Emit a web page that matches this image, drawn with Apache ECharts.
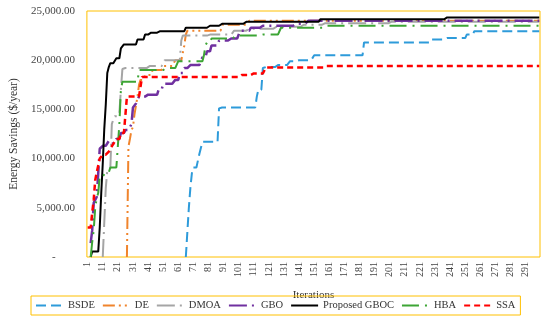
<!DOCTYPE html>
<html><head><meta charset="utf-8">
<script src="https://cdn.jsdelivr.net/npm/echarts@6/dist/echarts.min.js"></script>
<style>html,body{margin:0;padding:0;background:#fff}#c{width:550px;height:322px}</style>
</head><body><div id="c"></div>
<script>
// Iteration categories 1..300
const iterationCount = 300;
const yTicks = [0, 5000, 10000, 15000, 20000, 25000];
const seriesNames = ['BSDE', 'DE', 'DMOA', 'GBO', 'Proposed GBOC', 'HBA', 'SSA'];

// Convergence curves as [iteration where value changes, value]
const bsdeSteps = [[66,0],[67,2500],[68,5000],[69,7000],[70,8500],[71,9100],[74,9300],[75,10500],[77,11700],[88,15100],[89,15200],[113,16300],[114,17000],[117,19200],[119,19300],[127,19500],[135,19900],[141,20000],[151,20500],[184,21800],[229,22100],[238,22250],[252,22600],[257,22950]];
const deSteps = [[27,0],[28,11200],[29,12000],[30,12900],[31,13200],[32,14500],[33,15400],[34,16300],[35,17500],[36,18000],[39,18500],[44,19000],[51,19400],[59,20000],[65,21500],[66,22600],[67,23000],[90,23600],[108,24000]];
const dmoaSteps = [[11,0],[12,3500],[13,7000],[14,8800],[15,9000],[17,13500],[18,14000],[19,14300],[22,14600],[23,17000],[24,19100],[26,19200],[42,19400],[52,20000],[63,22000],[64,22500],[81,22600],[98,23000],[108,23200],[125,23400],[144,23600],[157,23750],[201,23900]];
const gboSteps = [[3,1400],[4,2700],[5,5500],[6,5800],[7,6100],[8,8500],[9,11000],[11,11300],[15,11800],[18,11500],[20,12000],[23,12600],[26,12900],[30,13500],[31,15200],[33,15600],[35,16300],[41,16500],[48,17000],[51,17600],[59,18000],[62,18700],[65,19200],[69,19500],[77,20300],[80,20900],[83,21500],[88,22000],[95,22200],[102,23000],[109,23300],[117,23500],[138,23700],[147,24000]];
const gbocSteps = [[3,0],[4,550],[9,3000],[10,6500],[11,9500],[12,13000],[13,15500],[14,18700],[15,19300],[16,19700],[20,20200],[23,21200],[25,21600],[34,22100],[39,22600],[42,22800],[49,22950],[66,23300],[81,23500],[90,23700],[105,23900],[155,24150],[238,24350]];
const hbaSteps = [[3,0],[4,1500],[5,2700],[6,5000],[7,6000],[8,6500],[9,8200],[13,8600],[16,9100],[22,13500],[23,17000],[24,17800],[35,19000],[52,19200],[61,19900],[78,20500],[79,21500],[80,21800],[83,22200],[99,22500],[116,22600],[129,23300],[159,23500]];
const ssaSteps = [[1,3000],[4,4500],[5,5800],[6,7800],[7,8600],[8,9300],[9,10000],[11,10400],[15,10700],[16,11000],[18,11500],[20,12000],[23,12600],[27,16300],[37,18300],[103,18500],[111,18650],[119,19250],[159,19400]];

const colors = ['#2E9BDA', '#F0842C', '#A5A5A5', '#7030A0', '#000000', '#3DA535', '#FF0000'];
const dashes = [[10,5], [12,4,2,4,2,4], [18,5,2,5], [18,5,2,5], 'solid', [17,6,2,6], [6,4]];
const widths = [2, 2, 2, 2.5, 2, 2, 2.5];

const categories = [];
for (let i = 1; i <= iterationCount; i++) categories.push(String(i));

// hold each read value until the next change (best-so-far curves)
function expand(steps) {
  const out = new Array(iterationCount).fill(null);
  for (let k = 0; k < steps.length; k++) {
    const start = steps[k][0];
    const end = k + 1 < steps.length ? steps[k + 1][0] - 1 : iterationCount;
    for (let i = start; i <= end; i++) out[i - 1] = steps[k][1];
  }
  return out;
}
const allSteps = [bsdeSteps, deSteps, dmoaSteps, gboSteps, gbocSteps, hbaSteps, ssaSteps];

function fmt(v) {
  if (v === 0) return '-       ';
  const s = Math.round(v).toString().replace(/\B(?=(\d{3})+(?!\d))/g, ',');
  return s + '.00';
}

const FONT = 'Liberation Serif';
const chart = echarts.init(document.getElementById('c'), null, {renderer: 'canvas'});
chart.setOption({
  animation: false,
  backgroundColor: '#fff',
  grid: {left: 73, right: 10, top: 11, bottom: 65, show: true, borderColor: '#FFC000', borderWidth: 1, containLabel: false},
  legend: {
    data: seriesNames, left: 31, top: 296, padding: [4, 5, 4, 4], itemWidth: 27, itemHeight: 12, itemGap: 7,
    borderColor: '#FFC000', borderWidth: 1,
    itemStyle: {opacity: 0, borderWidth: 0},
    textStyle: {fontFamily: FONT, fontSize: 10.5, color: '#333'}
  },
  xAxis: {
    type: 'category', data: categories, boundaryGap: true,
    name: 'Iterations', nameLocation: 'middle', nameGap: 33,
    nameTextStyle: {fontFamily: FONT, fontSize: 11, color: '#333'},
    axisLine: {show: false}, axisTick: {show: false}, splitLine: {show: false},
    axisLabel: {interval: 9, rotate: 90, fontFamily: FONT, fontSize: 10, color: '#444', margin: 5}
  },
  yAxis: {
    type: 'value', min: yTicks[0], max: yTicks[yTicks.length - 1], interval: 5000,
    name: 'Energy Savings ($/year)', nameLocation: 'middle', nameGap: 61,
    nameTextStyle: {fontFamily: FONT, fontSize: 11.5, color: '#333'},
    axisLine: {show: false}, axisTick: {show: false}, splitLine: {show: false},
    axisLabel: {formatter: fmt, fontFamily: FONT, fontSize: 11, color: '#444', margin: 12}
  },
  series: seriesNames.map((n, k) => ({
    name: n, type: 'line', data: expand(allSteps[k]), symbol: 'none', connectNulls: false,
    color: colors[k],
    lineStyle: {color: colors[k], width: widths[k], type: dashes[k], cap: 'butt'}
  }))
});
</script></body></html>
